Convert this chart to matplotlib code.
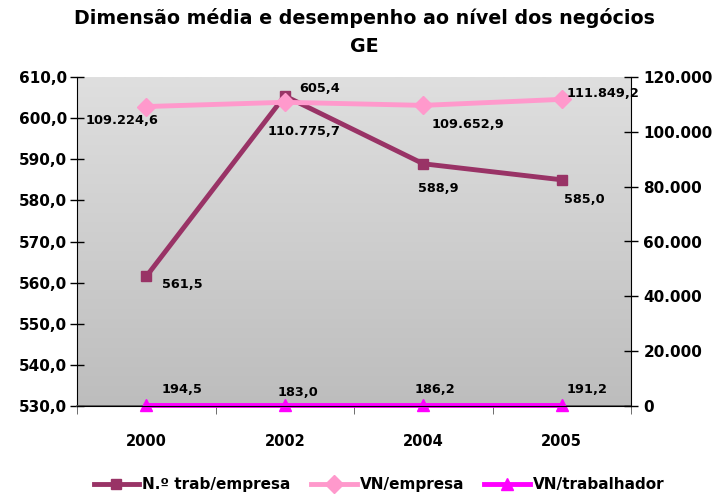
import matplotlib
matplotlib.use("Agg")
import matplotlib.pyplot as plt
import numpy as np
from matplotlib.ticker import FuncFormatter
from matplotlib.colors import LinearSegmentedColormap

plt.rcParams['font.family'] = ['DejaVu Sans']

years = ["2000", "2002", "2004", "2005"]
trab_empresa = [561.5, 605.4, 588.9, 585.0]
vn_empresa = [109224.6, 110775.7, 109652.9, 111849.2]
vn_trab = [194.5, 183.0, 186.2, 191.2]

def fmt_pt(v, dec=1):
    s = f"{v:,.{dec}f}"
    return s.replace(",", "X").replace(".", ",").replace("X", ".")

fig = plt.figure(figsize=(7.14, 4.96), dpi=100)
ax = fig.add_axes([77/714, 1-406/496, (631-77)/714, (406-77)/496])
ax2 = ax.twinx()

# gradient background
grad = np.linspace(0, 1, 256).reshape(-1, 1)
cmap = LinearSegmentedColormap.from_list("g", ["#bdbdbd", "#dfdfdf"])
ax.imshow(grad, extent=[0, 1, 0, 1], transform=ax.transAxes, cmap=cmap,
          aspect='auto', origin='lower', zorder=0)

x = np.arange(len(years))
ax.set_xlim(-0.5, len(years) - 0.5)
ax.set_ylim(530, 610)
ax2.set_ylim(0, 120000)

l1, = ax.plot(x, trab_empresa, color="#993366", lw=3.5, marker='s', ms=7, zorder=3,
              label="N.º trab/empresa")
l2, = ax2.plot(x, vn_empresa, color="#FF99CC", lw=3.5, marker='D', ms=9,
               label="VN/empresa")
l3, = ax2.plot(x, vn_trab, color="#FF00FF", lw=3.5, marker='^', ms=8, clip_on=False,
               label="VN/trabalhador")

lab_kw = dict(fontsize=9.3, fontweight='bold', textcoords='offset points')
offs1 = [(26, -6), (25, 5), (11, -18), (16, -14.5)]
for i, v in enumerate(trab_empresa):
    ax.annotate(fmt_pt(v), (x[i], v), xytext=offs1[i], ha='center', va='center', **lab_kw)
offs2 = [(-17.5, -10), (13.7, -21), (32, -13.7), (29.5, 4.3)]
for i, v in enumerate(vn_empresa):
    ax2.annotate(fmt_pt(v), (x[i], v), xytext=offs2[i], ha='center', va='center', **lab_kw)
offs3 = [(26, 11.5), (9.5, 9.5), (8.6, 11.5), (18, 11.5)]
for i, v in enumerate(vn_trab):
    ax2.annotate(fmt_pt(v), (x[i], v), xytext=offs3[i], ha='center', va='center', **lab_kw)

ax.set_yticks(np.arange(530, 611, 10))
ax.yaxis.set_major_formatter(FuncFormatter(lambda v, p: fmt_pt(v)))
ax2.set_yticks(np.arange(0, 120001, 20000))
ax2.yaxis.set_major_formatter(FuncFormatter(lambda v, p: fmt_pt(v, 0)))

ax.set_xticks(x)
ax.set_xticklabels(years)
ax.set_xticks(np.arange(-0.5, len(years), 1), minor=True)
ax.tick_params(axis='x', which='major', length=0, pad=20)
ax.tick_params(axis='x', which='minor', length=6, direction='out', color='#555555')

for a in (ax, ax2):
    for lbl in a.get_yticklabels():
        lbl.set_fontweight('bold')
        lbl.set_fontsize(11)
for lbl in ax.get_xticklabels():
    lbl.set_fontweight('bold')
    lbl.set_fontsize(10.5)
ax.tick_params(axis='y', direction='inout', length=10, width=1, pad=2)
ax2.tick_params(axis='y', direction='inout', length=10, width=1, pad=4)

for a in (ax, ax2):
    a.spines['top'].set_visible(False)
ax2.spines['left'].set_visible(False)
ax.spines['right'].set_visible(False)
ax.spines['bottom'].set_color('#555555')
ax.spines['bottom'].set_linewidth(1.2)

fig.text(364/714, 1-18/496, "Dimensão média e desempenho ao nível dos negócios",
         ha='center', va='center', fontsize=13.7, fontweight='bold')
fig.text(364/714, 1-47/496, "GE", ha='center', va='center', fontsize=13.7, fontweight='bold')

leg = fig.legend(handles=[l1, l2, l3], loc='center', bbox_to_anchor=(379/714, 1-485/496),
                 ncol=3, frameon=False, prop={'weight': 'bold', 'size': 11},
                 handlelength=3.0, columnspacing=1.3, handletextpad=0.2)

fig.savefig("out.png", dpi=100)
